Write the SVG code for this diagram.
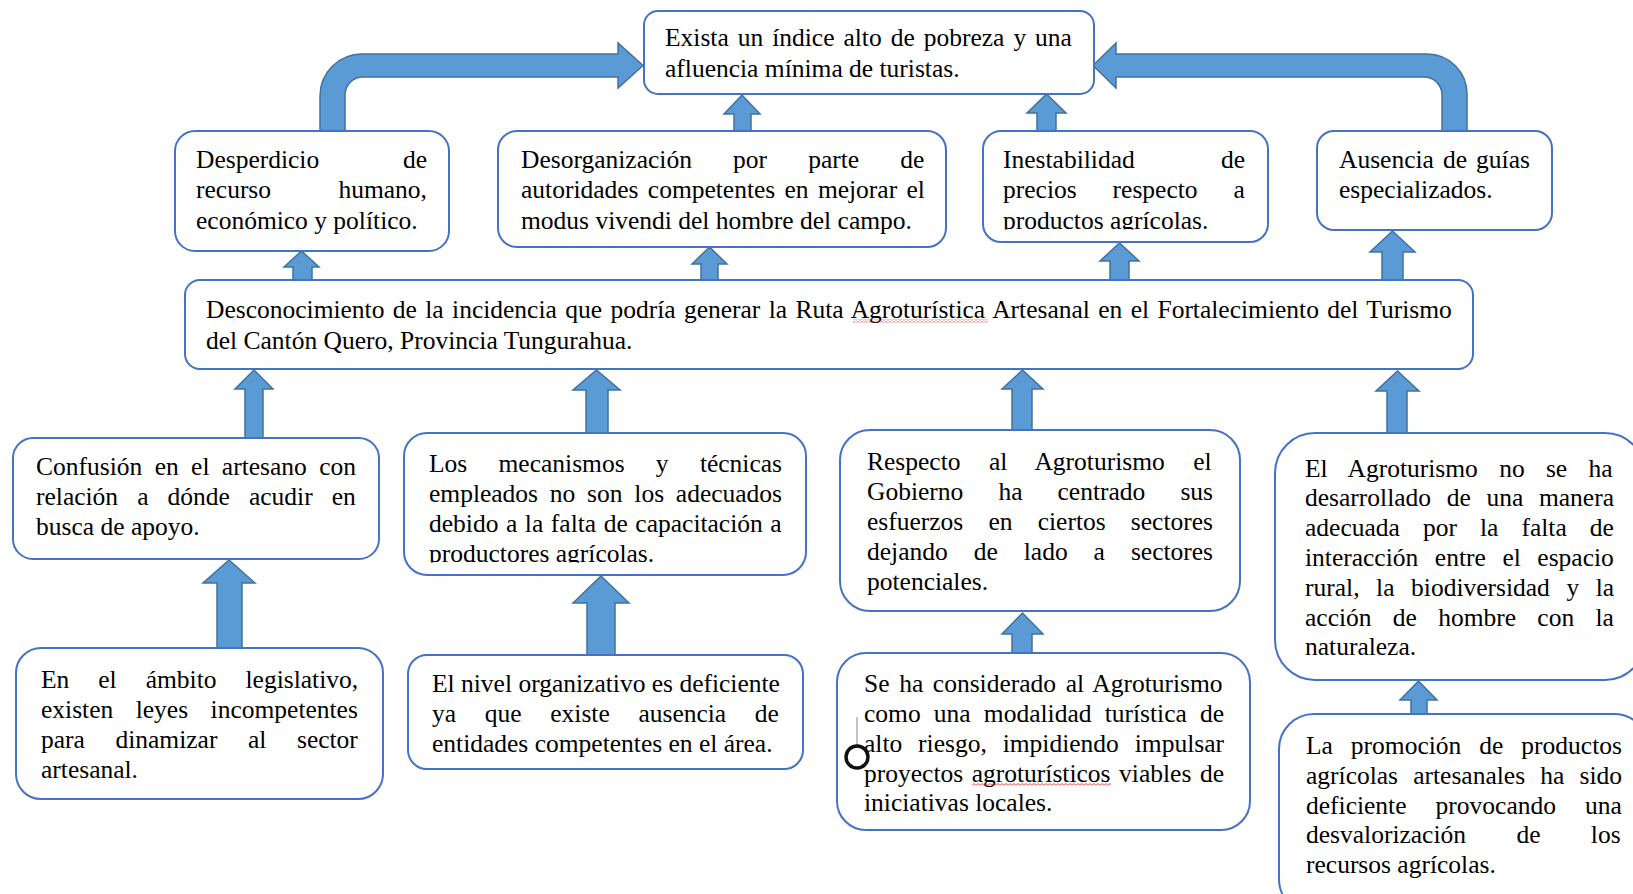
<svg xmlns="http://www.w3.org/2000/svg" width="1633" height="894" viewBox="0 0 1633 894">
<style>
.box{fill:#fff;stroke:#4472C4;stroke-width:2}
.arr{fill:#5B9BD5;stroke:#41719C;stroke-width:1.5;stroke-linejoin:miter}
text{font-family:"Liberation Serif","Times New Roman",serif;font-size:25.5px;fill:#000}
</style>
<defs>
<pattern id="sq" x="0" y="0" width="4" height="3" patternUnits="userSpaceOnUse">
<path d="M0 2.5 L2 0.5 L4 2.5" fill="none" stroke="#E02020" stroke-width="0.9"/>
</pattern>
<clipPath id="clipInest"><rect x="983" y="131" width="285" height="98.5"/></clipPath>
<clipPath id="clipMec"><rect x="404" y="433" width="402" height="129.5"/></clipPath>
</defs>
<rect width="1633" height="894" fill="#fff"/>

<g id="connectors">
<path class="arr" d="M320 131 L320 96 A42 42 0 0 1 362 54 L618 54 L618 43 L643 65.5 L618 88 L618 77 L363 77 A18 18 0 0 0 345 95 L345 131 Z"/>
<path class="arr" d="M1467 131 L1467 94 A40 40 0 0 0 1427 54 L1116 54 L1116 43 L1093 65.5 L1116 88 L1116 77 L1424 77 A18 18 0 0 1 1442 95 L1442 131 Z"/>
<polygon class="arr" points="293,280 293,267 284,267 301.5,251 319,267 312,267 312,280"/>
<polygon class="arr" points="701,280 701,264 692,264 709.5,247 727,264 718,264 718,280"/>
<polygon class="arr" points="1110,280 1110,261 1100,261 1119.5,243 1139,261 1129,261 1129,280"/>
<polygon class="arr" points="1382,280 1382,252 1370,252 1392.5,231 1415,252 1403,252 1403,280"/>
<polygon class="arr" points="734,131 734,114 724,114 742,95 760,114 751,114 751,131"/>
<polygon class="arr" points="1037,131 1037,113 1027,113 1046.5,94 1066,113 1056,113 1056,131"/>
<polygon class="arr" points="245,438 245,389 235,389 254,370 273,389 263,389 263,438"/>
<polygon class="arr" points="586,433 586,390 573,390 596.5,370 620,390 608,390 608,433"/>
<polygon class="arr" points="1012,430 1012,389 1002,389 1022.5,370 1043,389 1032,389 1032,430"/>
<polygon class="arr" points="1387,433 1387,391 1376,391 1397.5,371 1419,391 1407,391 1407,433"/>
<polygon class="arr" points="217,648 217,583 203,583 229,560 255,583 242,583 242,648"/>
<polygon class="arr" points="587,655 587,603 573,603 601,576 629,603 615,603 615,655"/>
<polygon class="arr" points="1012,653 1012,634 1002,634 1022.5,613 1043,634 1032,634 1032,653"/>
<polygon class="arr" points="1411,714 1411,700 1400,700 1418.5,681 1437,700 1427,700 1427,714"/>
</g>

<g id="n-top">
<rect class="box" x="644" y="11" width="450" height="83" rx="14"/>
<text x="665" y="46" style="word-spacing:2.6px">Exista un índice alto de pobreza y una</text>
<text x="665" y="77">afluencia mínima de turistas.</text>
</g>

<g id="n-desperdicio">
<rect class="box" x="175" y="131" width="274" height="120" rx="20"/>
<text x="196" y="167.5" style="word-spacing:77.3px">Desperdicio de</text>
<text x="196" y="198" style="word-spacing:61px">recurso humano,</text>
<text x="196" y="228.5">económico y político.</text>
</g>

<g id="n-desorganizacion">
<rect class="box" x="498" y="131" width="448" height="116" rx="19"/>
<text x="521" y="167.5" style="word-spacing:34.8px">Desorganización por parte de</text>
<text x="521" y="198" style="word-spacing:2.9px">autoridades competentes en mejorar el</text>
<text x="521" y="228.5">modus vivendi del hombre del campo.</text>
</g>

<g id="n-inestabilidad">
<rect class="box" x="983" y="131" width="285" height="111" rx="18"/>
<g clip-path="url(#clipInest)">
<text x="1003" y="167.5" style="word-spacing:79.8px">Inestabilidad de</text>
<text x="1003" y="198" style="word-spacing:29.6px">precios respecto a</text>
<text x="1003" y="228.5">productos agrícolas.</text>
</g>
</g>

<g id="n-ausencia">
<rect class="box" x="1317" y="131" width="235" height="99" rx="17"/>
<text x="1339" y="167.5" style="word-spacing:2.7px">Ausencia de guías</text>
<text x="1339" y="198">especializados.</text>
</g>

<g id="n-central">
<rect class="box" x="185" y="280" width="1288" height="89" rx="15"/>
<text x="206" y="317.5" style="word-spacing:2px">Desconocimiento de la incidencia que podría generar la Ruta Agroturística Artesanal en el Fortalecimiento del Turismo</text>
<text x="206" y="348.5">del Cantón Quero, Provincia Tungurahua.</text>
<rect x="853" y="319.5" width="135" height="3" fill="url(#sq)"/>
</g>

<g id="n-confusion">
<rect class="box" x="13" y="438" width="366" height="121" rx="20"/>
<text x="36" y="475" style="word-spacing:6px">Confusión en el artesano con</text>
<text x="36" y="505" style="word-spacing:12.7px">relación a dónde acudir en</text>
<text x="36" y="535">busca de apoyo.</text>
</g>

<g id="n-mecanismos">
<rect class="box" x="404" y="433" width="402" height="142" rx="23"/>
<g clip-path="url(#clipMec)">
<text x="429" y="471.5" style="word-spacing:24.9px">Los mecanismos y técnicas</text>
<text x="429" y="501.5" style="word-spacing:5.4px">empleados no son los adecuados</text>
<text x="429" y="531.5" style="word-spacing:1.2px">debido a la falta de capacitación a</text>
<text x="429" y="561.5">productores agrícolas.</text>
</g>
</g>

<g id="n-respecto">
<rect class="box" x="840" y="430" width="400" height="181" rx="30"/>
<text x="867" y="469.5" style="word-spacing:22.1px">Respecto al Agroturismo el</text>
<text x="867" y="499.5" style="word-spacing:28.7px">Gobierno ha centrado sus</text>
<text x="867" y="529.5" style="word-spacing:18.8px">esfuerzos en ciertos sectores</text>
<text x="867" y="559.5" style="word-spacing:19.6px">dejando de lado a sectores</text>
<text x="867" y="589.5">potenciales.</text>
</g>

<g id="n-agroturismo">
<rect class="box" x="1275" y="433" width="370" height="247" rx="40"/>
<text x="1305" y="476.5" style="word-spacing:14.9px">El Agroturismo no se ha</text>
<text x="1305" y="506.3" style="word-spacing:9.3px">desarrollado de una manera</text>
<text x="1305" y="536.1" style="word-spacing:16.7px">adecuada por la falta de</text>
<text x="1305" y="565.9" style="word-spacing:10.2px">interacción entre el espacio</text>
<text x="1305" y="595.7" style="word-spacing:10.2px">rural, la biodiversidad y la</text>
<text x="1305" y="625.5" style="word-spacing:14.9px">acción de hombre con la</text>
<text x="1305" y="655.3">naturaleza.</text>
</g>

<g id="n-legislativo">
<rect class="box" x="16" y="648" width="367" height="151" rx="25"/>
<text x="41" y="687.5" style="word-spacing:22.6px">En el ámbito legislativo,</text>
<text x="41" y="717.5" style="word-spacing:16.1px">existen leyes incompetentes</text>
<text x="41" y="747.5" style="word-spacing:24.2px">para dinamizar al sector</text>
<text x="41" y="777.5">artesanal.</text>
</g>

<g id="n-nivel">
<rect class="box" x="408" y="655" width="395" height="114" rx="19"/>
<text x="432" y="692">El nivel organizativo es deficiente</text>
<text x="432" y="722" style="word-spacing:22.3px">ya que existe ausencia de</text>
<text x="432" y="752">entidades competentes en el área.</text>
</g>

<g id="n-considerado">
<rect class="box" x="837" y="653" width="413" height="177" rx="29"/>
<text x="864" y="692" style="word-spacing:3.25px">Se ha considerado al Agroturismo</text>
<text x="864" y="722" style="word-spacing:6.8px">como una modalidad turística de</text>
<text x="864" y="752" style="word-spacing:9.5px">alto riesgo, impidiendo impulsar</text>
<text x="864" y="781.5" style="word-spacing:2.2px">proyectos agroturísticos viables de</text>
<text x="864" y="811">iniciativas locales.</text>
<rect x="972" y="783" width="139" height="3" fill="url(#sq)"/>
<line x1="857" y1="717" x2="857" y2="745" stroke="#888" stroke-width="1"/>
<circle cx="857" cy="757" r="11" fill="#fff" stroke="#111" stroke-width="3.5"/>
</g>

<g id="n-promocion">
<rect class="box" x="1279" y="714" width="370" height="200" rx="35"/>
<text x="1306" y="754" style="word-spacing:11.6px">La promoción de productos</text>
<text x="1306" y="784" style="word-spacing:8.8px">agrícolas artesanales ha sido</text>
<text x="1306" y="813.6" style="word-spacing:22.7px">deficiente provocando una</text>
<text x="1306" y="843.4" style="word-spacing:44px">desvalorización de los</text>
<text x="1306" y="873">recursos agrícolas.</text>
</g>
</svg>
